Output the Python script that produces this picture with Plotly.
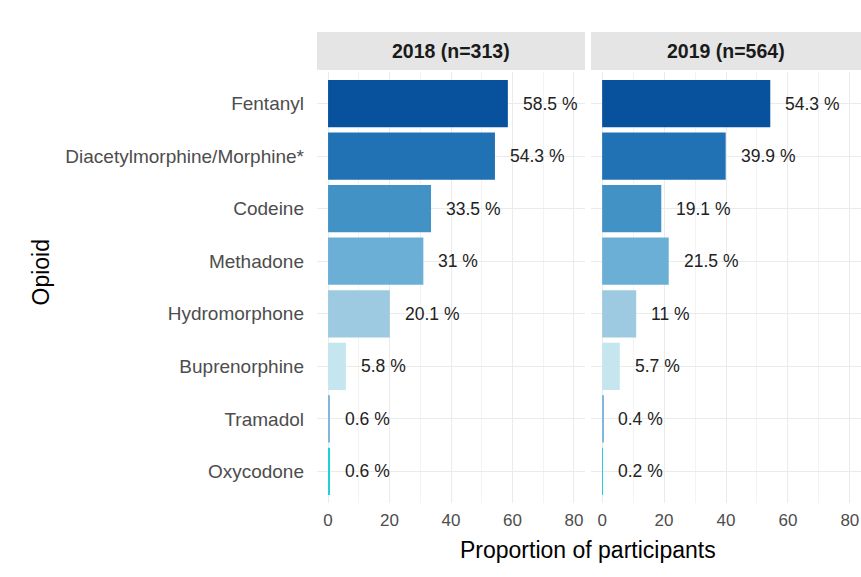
import plotly.graph_objects as go

opioids = ["Fentanyl", "Diacetylmorphine/Morphine*", "Codeine", "Methadone",
           "Hydromorphone", "Buprenorphine", "Tramadol", "Oxycodone"]
pct_2018 = [58.5, 54.3, 33.5, 31, 20.1, 5.8, 0.6, 0.6]
pct_2019 = [54.3, 39.9, 19.1, 21.5, 11, 5.7, 0.4, 0.2]
panel_titles = ["2018 (n=313)", "2019 (n=564)"]
x_ticks = [0, 20, 40, 60, 80]

colors = ["#08519c", "#2171b5", "#4292c6", "#6baed6",
          "#9ecae1", "#c6e6ef", "#7fb8dc", "#1fd0dc"]

def fmt(v):
    return ("%g" % v) + " %"

fig = go.Figure()
annos = []
for i, vals in enumerate([pct_2018, pct_2019]):
    xa = "x" if i == 0 else "x2"
    fig.add_trace(go.Bar(
        x=vals, y=opioids, orientation="h",
        marker=dict(color=colors, line=dict(width=0)),
        width=0.9, xaxis=xa, yaxis="y", showlegend=False,
        hoverinfo="x+y"
    ))
    for o, v in zip(opioids, vals):
        annos.append(dict(x=v, y=o, xref=xa, yref="y", text=fmt(v),
                          showarrow=False, xanchor="left", xshift=13,
                          font=dict(size=17.5, color="#222222")))

W, H = 861, 577
l, r, t, b = 317, 0, 72, 74
pw = W - l - r
ph = H - t - b
d1 = [0, 268 / pw]
d2 = [274 / pw, 1]

axis_common = dict(
    range=[-3.6, 83.6], tickvals=x_ticks, showgrid=True,
    gridcolor="#ebebeb", gridwidth=1.2, zeroline=False,
    tickfont=dict(size=17, color="#4d4d4d"), showline=False,
    minor=dict(dtick=10, tick0=0, showgrid=True, gridcolor="#f3f3f3", gridwidth=0.6),
    ticks="", ticklabelstandoff=5,
)

fig.update_layout(
    width=W, height=H,
    margin=dict(l=l, r=r, t=t, b=b, autoexpand=False),
    plot_bgcolor="white", paper_bgcolor="white",
    font=dict(family="Liberation Sans, Arial, sans-serif"),
    bargap=0.1,
    xaxis=dict(domain=d1, anchor="y", **axis_common),
    xaxis2=dict(domain=d2, anchor="y", **axis_common),
    yaxis=dict(categoryorder="array", categoryarray=opioids,
               range=[7.6, -0.6], showgrid=True, gridcolor="#ebebeb",
               gridwidth=1.2, tickfont=dict(size=19, color="#4d4d4d"),
               ticks="", ticklabelstandoff=12, zeroline=False),
    annotations=annos,
)

s0 = 1 + 2 / ph
s1 = 1 + 40 / ph
for dom, title in zip([d1, d2], panel_titles):
    fig.add_shape(type="rect", xref="paper", yref="paper",
                  x0=dom[0], x1=dom[1], y0=s0, y1=s1,
                  fillcolor="#e5e5e5", line=dict(width=0), layer="below")
    fig.add_annotation(x=(dom[0] + dom[1]) / 2, y=(s0 + s1) / 2,
                       xref="paper", yref="paper", text="<b>" + title + "</b>",
                       xanchor="center", yanchor="middle",
                       showarrow=False, font=dict(size=19.5, color="#1a1a1a"))

fig.add_annotation(x=(d1[1] + d2[0]) / 2, y=-47 / ph, xref="paper", yref="paper",
                   text="Proportion of participants", showarrow=False,
                   xanchor="center", yanchor="middle",
                   font=dict(size=23, color="#000000"))
fig.add_annotation(x=-(l - 40) / pw, y=0.5 + 15 / ph, xref="paper", yref="paper",
                   text="Opioid", textangle=-90, showarrow=False,
                   xanchor="center", yanchor="middle",
                   font=dict(size=23, color="#000000"))

# drop the browser's default body margin so the figure fills the window
fig.write_html("out.html", config={"displayModeBar": False},
               post_script="document.body.style.margin='0';document.body.style.overflow='hidden';")
